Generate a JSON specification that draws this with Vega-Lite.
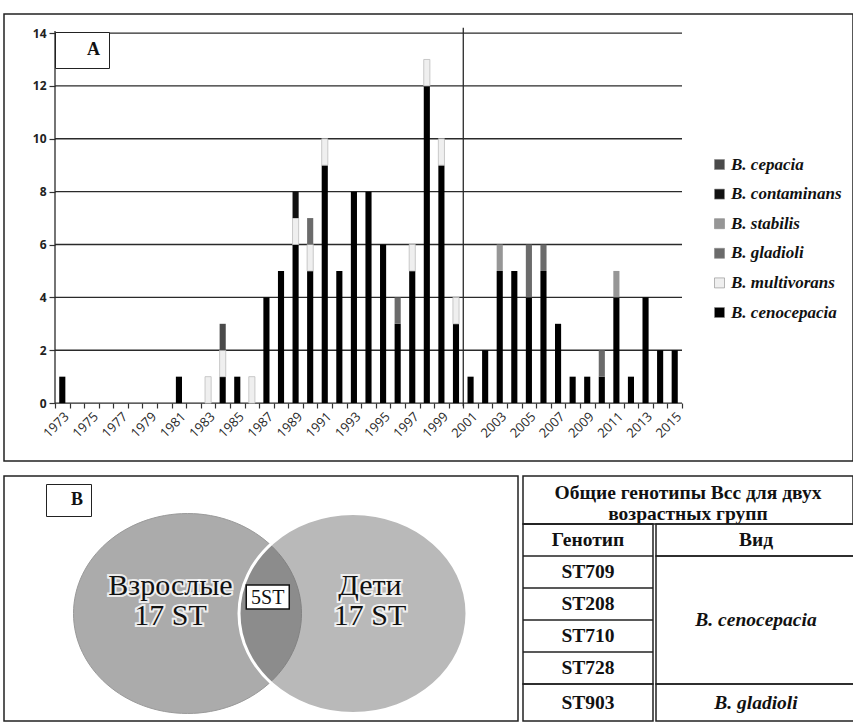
{
  "$schema": "https://vega.github.io/schema/vega-lite/v6.json",
  "padding": {"left": 3, "top": 13, "right": 0, "bottom": 0},
  "background": "white",
  "config": {"view": {"stroke": "#222222", "strokeWidth": 1.5}},
  "datasets": {
    "bars": [
      {"year": "1973", "species": "B. cenocepacia", "count": 1},
      {"year": "1981", "species": "B. cenocepacia", "count": 1},
      {"year": "1983", "species": "B. multivorans", "count": 1},
      {"year": "1984", "species": "B. cenocepacia", "count": 1},
      {"year": "1984", "species": "B. multivorans", "count": 1},
      {"year": "1984", "species": "B. cepacia", "count": 1},
      {"year": "1985", "species": "B. cenocepacia", "count": 1},
      {"year": "1986", "species": "B. multivorans", "count": 1},
      {"year": "1987", "species": "B. cenocepacia", "count": 4},
      {"year": "1988", "species": "B. cenocepacia", "count": 5},
      {"year": "1989", "species": "B. cenocepacia", "count": 6},
      {"year": "1989", "species": "B. multivorans", "count": 1},
      {"year": "1989", "species": "B. contaminans", "count": 1},
      {"year": "1990", "species": "B. cenocepacia", "count": 5},
      {"year": "1990", "species": "B. multivorans", "count": 1},
      {"year": "1990", "species": "B. gladioli", "count": 1},
      {"year": "1991", "species": "B. cenocepacia", "count": 9},
      {"year": "1991", "species": "B. multivorans", "count": 1},
      {"year": "1992", "species": "B. cenocepacia", "count": 5},
      {"year": "1993", "species": "B. cenocepacia", "count": 8},
      {"year": "1994", "species": "B. cenocepacia", "count": 8},
      {"year": "1995", "species": "B. cenocepacia", "count": 6},
      {"year": "1996", "species": "B. cenocepacia", "count": 3},
      {"year": "1996", "species": "B. gladioli", "count": 1},
      {"year": "1997", "species": "B. cenocepacia", "count": 5},
      {"year": "1997", "species": "B. multivorans", "count": 1},
      {"year": "1998", "species": "B. cenocepacia", "count": 12},
      {"year": "1998", "species": "B. multivorans", "count": 1},
      {"year": "1999", "species": "B. cenocepacia", "count": 9},
      {"year": "1999", "species": "B. multivorans", "count": 1},
      {"year": "2000", "species": "B. cenocepacia", "count": 3},
      {"year": "2000", "species": "B. multivorans", "count": 1},
      {"year": "2001", "species": "B. cenocepacia", "count": 1},
      {"year": "2002", "species": "B. cenocepacia", "count": 2},
      {"year": "2003", "species": "B. cenocepacia", "count": 5},
      {"year": "2003", "species": "B. stabilis", "count": 1},
      {"year": "2004", "species": "B. cenocepacia", "count": 5},
      {"year": "2005", "species": "B. cenocepacia", "count": 4},
      {"year": "2005", "species": "B. gladioli", "count": 2},
      {"year": "2006", "species": "B. cenocepacia", "count": 5},
      {"year": "2006", "species": "B. gladioli", "count": 1},
      {"year": "2007", "species": "B. cenocepacia", "count": 3},
      {"year": "2008", "species": "B. cenocepacia", "count": 1},
      {"year": "2009", "species": "B. cenocepacia", "count": 1},
      {"year": "2010", "species": "B. cenocepacia", "count": 1},
      {"year": "2010", "species": "B. gladioli", "count": 1},
      {"year": "2011", "species": "B. cenocepacia", "count": 4},
      {"year": "2011", "species": "B. stabilis", "count": 1},
      {"year": "2012", "species": "B. cenocepacia", "count": 1},
      {"year": "2013", "species": "B. cenocepacia", "count": 4},
      {"year": "2014", "species": "B. cenocepacia", "count": 2},
      {"year": "2015", "species": "B. cenocepacia", "count": 2}
    ],
    "species": [
      {"species": "B. cenocepacia", "stackRank": 1},
      {"species": "B. multivorans", "stackRank": 2},
      {"species": "B. gladioli", "stackRank": 3},
      {"species": "B. stabilis", "stackRank": 4},
      {"species": "B. contaminans", "stackRank": 5},
      {"species": "B. cepacia", "stackRank": 6}
    ],
    "grid": [{"v": 0}, {"v": 2}, {"v": 4}, {"v": 6}, {"v": 8}, {"v": 10}, {"v": 12}, {"v": 14}],
    "venn": [
      {"group": "Взрослые", "label": "Взрослые\n17 ST"},
      {"group": "Общие", "label": "5ST"},
      {"group": "Дети", "label": "Дети\n17 ST"}
    ]
  },
  "spacing": 15,
  "bounds": "flush",
  "resolve": {"scale": {"opacity": "independent"}, "legend": {"opacity": "independent"}},
  "vconcat": [
    {
      "width": 849,
      "height": 447,
      "layer": [
        {
          "data": {"name": "grid"},
          "mark": {"type": "rule", "color": "#2a2a2a", "strokeWidth": 1.3},
          "encoding": {
            "x": {"datum": "1973", "type": "ordinal", "bandPosition": 0},
            "x2": {"datum": "2015", "bandPosition": 1},
            "y": {"field": "v", "type": "quantitative", "title": null}
          }
        },
        {
          "data": {"name": "bars"},
          "transform": [{"lookup": "species", "from": {"data": {"name": "species"}, "key": "species", "fields": ["stackRank"]}}],
          "mark": {"type": "bar", "width": {"band": 0.42}, "strokeWidth": 0.8},
          "encoding": {
            "x": {
              "field": "year", "type": "ordinal",
              "scale": {
                "type": "band",
                "domain": ["1973","1974","1975","1976","1977","1978","1979","1980","1981","1982","1983","1984","1985","1986","1987","1988","1989","1990","1991","1992","1993","1994","1995","1996","1997","1998","1999","2000","2001","2002","2003","2004","2005","2006","2007","2008","2009","2010","2011","2012","2013","2014","2015"],
                "range": [51, 678], "paddingInner": 0, "paddingOuter": 0
              },
              "axis": {
                "title": null, "orient": "bottom", "offset": -58, "domain": false, "grid": false,
                "tickBand": "extent", "tickSize": 5, "tickColor": "#333333", "tickWidth": 1.2,
                "labelAngle": -45, "labelAlign": "right", "labelBaseline": "top",
                "labelFont": "Open Sans", "labelFontSize": 13, "labelColor": "#2a2a2a", "labelPadding": 2,
                "labelOverlap": false,
                "labelExpr": "(toNumber(datum.value) - 1973) % 2 === 0 ? datum.label : ''"
              }
            },
            "y": {
              "field": "count", "type": "quantitative", "stack": "zero",
              "scale": {"domain": [-2.19, 14.72], "nice": false, "zero": false},
              "axis": {
                "title": null, "orient": "left", "offset": -51, "values": [0, 2, 4, 6, 8, 10, 12, 14],
                "domain": false, "grid": false, "tickSize": 6, "tickColor": "#333333", "tickWidth": 1.2,
                "labelFont": "Open Sans", "labelFontSize": 12, "labelFontWeight": "bold", "labelColor": "#222222", "labelPadding": 3
              }
            },
            "color": {
              "field": "species", "type": "nominal",
              "scale": {
                "domain": ["B. cepacia", "B. contaminans", "B. stabilis", "B. gladioli", "B. multivorans", "B. cenocepacia"],
                "range": ["#4a4a4a", "#111111", "#969696", "#6b6b6b", "#efefef", "#000000"]
              },
              "legend": {
                "title": null, "orient": "none", "legendX": 707, "legendY": 142,
                "symbolType": "square", "symbolSize": 100, "symbolStrokeColor": "#888888", "symbolStrokeWidth": 0.6,
                "labelFont": "Liberation Serif", "labelFontStyle": "italic", "labelFontWeight": "bold",
                "labelFontSize": 17, "labelColor": "#111111", "labelOffset": 3, "rowPadding": 11.6
              }
            },
            "opacity": {
              "datum": "A", "type": "nominal", "scale": {"range": [1]},
              "legend": {
                "title": null, "orient": "none", "legendX": 51, "legendY": 18,
                "strokeColor": "#222222", "fillColor": "#ffffff", "padding": 9,
                "symbolSize": 0, "symbolOpacity": 0, "symbolStrokeWidth": 0, "labelOffset": 5,
                "labelFont": "Liberation Serif", "labelFontWeight": "bold", "labelFontSize": 18, "labelColor": "#111111",
                "labelExpr": "'\u00a0A\u00a0'"
              }
            },
            "order": {"field": "stackRank", "type": "quantitative"},
            "stroke": {"condition": {"test": "datum.species === 'B. multivorans'", "value": "#bdbdbd"}, "value": "transparent"}
          }
        },
        {
          "data": {"values": [{}]},
          "mark": {"type": "rule", "color": "#2a2a2a", "strokeWidth": 1.3},
          "encoding": {
            "x": {"datum": "1973", "type": "ordinal", "bandPosition": 0},
            "y": {"datum": 14.08, "type": "quantitative"},
            "y2": {"datum": 0}
          }
        },
        {
          "data": {"values": [{}]},
          "mark": {"type": "rule", "color": "#2a2a2a", "strokeWidth": 1.3},
          "encoding": {
            "x": {"datum": "2001", "type": "ordinal", "bandPosition": 0},
            "y": {"datum": 14.2, "type": "quantitative"},
            "y2": {"datum": -0.12}
          }
        }
      ]
    },
    {
      "spacing": 5,
      "bounds": "flush",
      "hconcat": [
        {
          "width": 514,
          "height": 245,
          "data": {"name": "venn"},
          "encoding": {
            "x": {
              "field": "group", "type": "nominal",
              "scale": {"type": "point", "domain": ["Взрослые", "Общие", "Дети"], "range": [183.5, 349], "padding": 0},
              "axis": null
            }
          },
          "layer": [
            {
              "transform": [{"filter": "datum.group === 'Взрослые'"}],
              "mark": {"type": "point", "shape": "M-1,0.1316A1,0.877,0,1,0,1,0.1316A1,0.877,0,1,0,-1,0.1316Z", "size": 51984, "filled": true, "fill": "#ababab", "opacity": 1, "stroke": "#9a9a9a", "strokeWidth": 1}
            },
            {
              "transform": [{"filter": "datum.group === 'Дети'"}],
              "mark": {"type": "point", "shape": "M-1,0.1316A1,0.877,0,1,0,1,0.1316A1,0.877,0,1,0,-1,0.1316Z", "size": 51984, "filled": true, "fill": "#686868", "fillOpacity": 0.464, "opacity": 1, "stroke": "#ffffff", "strokeWidth": 3, "strokeOpacity": 1}
            },
            {
              "transform": [{"filter": "datum.group === 'Общие'"}],
              "mark": {"type": "point", "shape": "M-1.116,-0.628L0.884,-0.628L0.884,0.488L-1.116,0.488Z", "size": 1849, "filled": true, "fill": "#ffffff", "opacity": 1, "stroke": "#111111", "strokeWidth": 1.5}
            },
            {
              "transform": [{"filter": "datum.group === 'Взрослые'"}],
              "mark": {"type": "text", "font": "Liberation Serif", "fontSize": 30, "lineBreak": "\n", "lineHeight": 30, "dx": -17, "dy": -12.5, "fill": "#ffffff", "stroke": "#ffffff", "strokeWidth": 4, "strokeOpacity": 0.8},
              "encoding": {"text": {"field": "label"}}
            },
            {
              "transform": [{"filter": "datum.group === 'Дети'"}],
              "mark": {"type": "text", "font": "Liberation Serif", "fontSize": 30, "lineBreak": "\n", "lineHeight": 30, "dx": 17, "dy": -12.5, "fill": "#ffffff", "stroke": "#ffffff", "strokeWidth": 4, "strokeOpacity": 0.8},
              "encoding": {"text": {"field": "label"}}
            },
            {
              "transform": [{"filter": "datum.group === 'Взрослые'"}],
              "mark": {"type": "text", "font": "Liberation Serif", "fontSize": 30, "lineBreak": "\n", "lineHeight": 30, "dx": -17, "dy": -12.5, "color": "#111111"},
              "encoding": {"text": {"field": "label"}}
            },
            {
              "transform": [{"filter": "datum.group === 'Дети'"}],
              "mark": {"type": "text", "font": "Liberation Serif", "fontSize": 30, "lineBreak": "\n", "lineHeight": 30, "dx": 17, "dy": -12.5, "color": "#111111"},
              "encoding": {"text": {"field": "label"}}
            },
            {
              "transform": [{"filter": "datum.group === 'Общие'"}],
              "mark": {"type": "text", "font": "Liberation Serif", "fontSize": 20, "dx": -2.5, "dy": -1, "color": "#111111"},
              "encoding": {
                "text": {"field": "label"},
                "opacity": {
                  "datum": "B", "type": "nominal", "scale": {"range": [1]},
                  "legend": {
                    "title": null, "orient": "none", "legendX": 42, "legendY": 8,
                    "strokeColor": "#222222", "fillColor": "#ffffff", "padding": 7,
                    "symbolSize": 0, "symbolOpacity": 0, "symbolStrokeWidth": 0, "labelOffset": 0,
                    "labelFont": "Liberation Serif", "labelFontWeight": "bold", "labelFontSize": 18, "labelColor": "#111111",
                    "labelExpr": "'\u00a0\u00a0B\u00a0\u00a0'"
                  }
                }
              }
            }
          ]
        },
        {
          "spacing": 0,
          "bounds": "flush",
          "vconcat": [
            {
              "width": 330, "height": 48,
              "data": {"values": [{"t": "Общие генотипы Bcc для двух\nвозрастных групп"}]},
              "mark": {"type": "text", "font": "Liberation Serif", "fontSize": 19.5, "fontWeight": "bold", "lineBreak": "\n", "lineHeight": 21, "dy": -7, "color": "#111111"},
              "encoding": {"y": {"field": "t", "type": "nominal", "axis": null}, "text": {"field": "t"}}
            },
            {
              "spacing": 0,
              "bounds": "full",
              "hconcat": [
                {
                  "spacing": 0,
                  "bounds": "flush",
                  "vconcat": [
                    {
                      "width": 130, "height": 160,
                      "data": {"values": [{"g": "Генотип"}, {"g": "ST709"}, {"g": "ST208"}, {"g": "ST710"}, {"g": "ST728"}]},
                      "layer": [
                        {
                          "mark": {"type": "rule", "color": "#222222", "strokeWidth": 1.5},
                          "encoding": {
                            "y": {"field": "g", "type": "nominal", "bandPosition": 0, "scale": {"type": "band", "domain": ["Генотип", "ST709", "ST208", "ST710", "ST728"], "paddingInner": 0, "paddingOuter": 0}, "axis": null}
                          }
                        },
                        {
                          "mark": {"type": "text", "font": "Liberation Serif", "fontSize": 19.5, "fontWeight": "bold", "color": "#111111"},
                          "encoding": {
                            "y": {"field": "g", "type": "nominal", "axis": null},
                            "text": {"field": "g"}
                          }
                        }
                      ]
                    },
                    {
                      "width": 130, "height": 37,
                      "data": {"values": [{"g": "ST903"}]},
                      "mark": {"type": "text", "font": "Liberation Serif", "fontSize": 19.5, "fontWeight": "bold", "color": "#111111"},
                      "encoding": {"y": {"field": "g", "type": "nominal", "axis": null}, "text": {"field": "g"}}
                    }
                  ]
                },
                {
                  "spacing": 0,
                  "bounds": "flush",
                  "vconcat": [
                    {
                      "width": 200, "height": 32,
                      "data": {"values": [{"s": "Вид"}]},
                      "mark": {"type": "text", "font": "Liberation Serif", "fontSize": 19.5, "fontWeight": "bold", "color": "#111111"},
                      "encoding": {"y": {"field": "s", "type": "nominal", "axis": null}, "text": {"field": "s"}}
                    },
                    {
                      "width": 200, "height": 128,
                      "data": {"values": [{"s": "B. cenocepacia"}]},
                      "mark": {"type": "text", "font": "Liberation Serif", "fontSize": 19.5, "fontWeight": "bold", "fontStyle": "italic", "color": "#111111"},
                      "encoding": {"y": {"field": "s", "type": "nominal", "axis": null}, "text": {"field": "s"}}
                    },
                    {
                      "width": 200, "height": 37,
                      "data": {"values": [{"s": "B. gladioli"}]},
                      "mark": {"type": "text", "font": "Liberation Serif", "fontSize": 19.5, "fontWeight": "bold", "fontStyle": "italic", "color": "#111111"},
                      "encoding": {"y": {"field": "s", "type": "nominal", "axis": null}, "text": {"field": "s"}}
                    }
                  ]
                }
              ]
            }
          ]
        }
      ]
    }
  ]
}
